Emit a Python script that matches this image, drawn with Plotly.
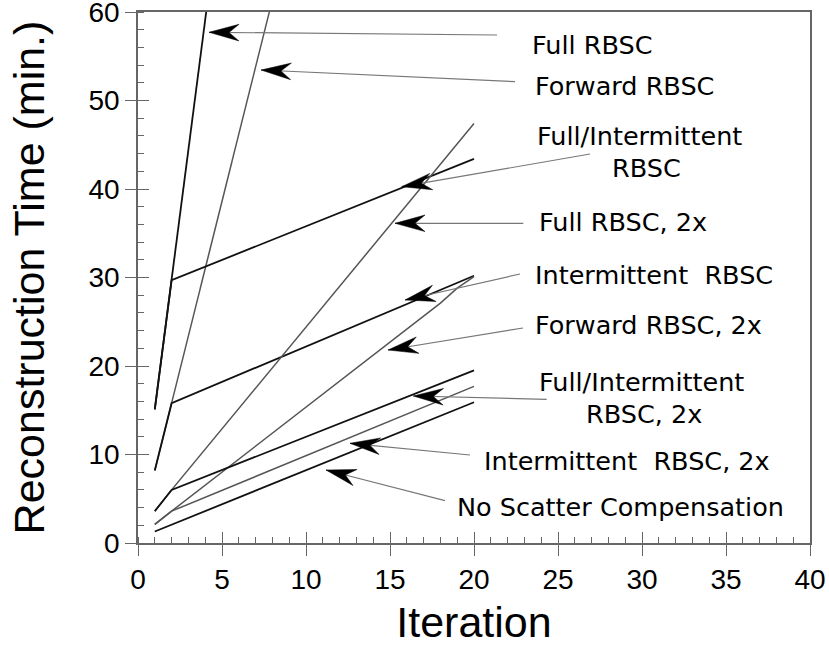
import math
import plotly.graph_objects as go

# ---------------- data ----------------
full_x = [1, 2, 3, 4, 5]
full_y = [15.1, 29.7, 44.4, 59.1, 73.8]

fwd_x = [1, 2, 3, 4, 5, 6, 7, 8]
fwd_y = [8.2, 15.8, 23.4, 31.0, 38.6, 46.2, 53.8, 61.4]

fullint_x = [1, 2, 20]
fullint_y = [15.1, 29.7, 43.4]

int_x = [1, 2, 20]
int_y = [8.2, 15.8, 30.2]

full2_x = [1, 2, 20]
full2_y = [3.6, 6.0, 47.4]

fwd2_x = [1, 2, 18, 19, 20]
fwd2_y = [2.1, 3.6, 27.1, 28.8, 30.1]

fullint2_x = [1, 2, 20]
fullint2_y = [3.6, 6.0, 19.5]

int2_x = [1, 2, 20]
int2_y = [2.1, 3.6, 17.7]

nosc_x = [1, 20]
nosc_y = [1.3, 15.9]

x_ticks = [0, 5, 10, 15, 20, 25, 30, 35, 40]
y_ticks = [0, 10, 20, 30, 40, 50, 60]

BLACK = "#111111"
GRAY = "#555555"

series = [
    (full_x, full_y, BLACK, 1.8),
    (fwd_x, fwd_y, GRAY, 1.5),
    (fullint_x, fullint_y, BLACK, 1.8),
    (int_x, int_y, BLACK, 1.8),
    (full2_x, full2_y, GRAY, 1.5),
    (fwd2_x, fwd2_y, GRAY, 1.5),
    (fullint2_x, fullint2_y, BLACK, 1.8),
    (int2_x, int2_y, GRAY, 1.5),
    (nosc_x, nosc_y, BLACK, 1.8),
]

fig = go.Figure()
for xs, ys, c, w in series:
    fig.add_trace(go.Scatter(x=xs, y=ys, mode="lines",
                             line=dict(color=c, width=w),
                             showlegend=False, hoverinfo="skip", cliponaxis=True))

# dummy trace to create the overlay axes (for crossing major ticks)
fig.add_trace(go.Scatter(x=[None], y=[None], xaxis="x2", yaxis="y2",
                         showlegend=False, hoverinfo="skip"))

# ---------------- geometry ----------------
W, H = 829, 649
ML, MR, MT, MB = 138, 19, 12, 106
XR = (0, 40)
YR = (0, 60)
PX_X = (W - ML - MR) / (XR[1] - XR[0])
PX_Y = (H - MT - MB) / (YR[1] - YR[0])


def dx_(px):
    return XR[0] + (px - ML) / PX_X


def dy_(py):
    return YR[0] + (H - MB - py) / PX_Y


# arrows: tip (pixel), tail (pixel) in picture coordinates
arrows_px = [
    ((209, 32.3), (497, 35)),
    ((261, 70), (515, 81.7)),
    ((401.7, 186.7), (590, 154)),
    ((395, 223.3), (523.3, 223.3)),
    ((405, 300), (520, 274)),
    ((388, 350), (523, 328)),
    ((413.3, 396), (546.7, 399.3)),
    ((350, 443.3), (470, 455)),
    ((326, 470), (445, 500.7)),
]

shapes = []
L, HW, NOTCH = 30.0, 8.3, 20.0
for (tpx, tpy), (spx, spy) in arrows_px:
    shapes.append(dict(type="line", xref="x", yref="y",
                       x0=dx_(spx), y0=dy_(spy), x1=dx_(tpx), y1=dy_(tpy),
                       line=dict(color="#777777", width=1.2), layer="above"))
for (tpx, tpy), (spx, spy) in arrows_px:
    ddx = tpx - spx
    ddy = -(tpy - spy)
    n = math.hypot(ddx, ddy)
    ux, uy = ddx / n, ddy / n
    nx, ny = -uy, ux
    pts_local = [(0, 0), (-L, HW), (-NOTCH, 0), (-L, -HW)]
    pts = [(a * ux + b * nx, a * uy + b * ny) for a, b in pts_local]
    path = "M" + " L".join(f"{p[0]:.2f},{p[1]:.2f}" for p in pts) + " Z"
    shapes.append(dict(type="path", xref="x", yref="y", xsizemode="pixel",
                       ysizemode="pixel", xanchor=dx_(tpx), yanchor=dy_(tpy), path=path,
                       fillcolor="black", line=dict(color="black", width=0.5),
                       layer="above"))

LABEL_FONT = dict(family="DejaVu Sans, sans-serif", size=25.5, color="black")
NB = "\u00a0"
labels_px = [
    ("Full RBSC", 530, 45),
    ("Forward RBSC", 533, 86),
    ("Full/Intermittent", 535, 136),
    ("RBSC", 610, 168),
    ("Full RBSC, 2x", 537, 222),
    ("Intermittent" + NB + NB + "RBSC", 533, 275),
    ("Forward RBSC, 2x", 533, 325),
    ("Full/Intermittent", 537, 382),
    ("RBSC, 2x", 584, 414),
    ("Intermittent" + NB + NB + "RBSC, 2x", 482, 461),
    ("No Scatter Compensation", 455, 507),
]
annotations = [dict(text=t, x=(px - ML) / (W - ML - MR), y=(H - MB - py) / (H - MT - MB),
                    xref="paper", yref="paper", showarrow=False,
                    xanchor="left", yanchor="middle", font=LABEL_FONT)
               for t, px, py in labels_px]

AX_FONT = dict(family="Liberation Sans, Arial, sans-serif", size=28, color="black")
TITLE_FONT = dict(family="Liberation Sans, Arial, sans-serif", size=43, color="black")
AX_COL = "#666666"

fig.update_layout(
    width=W, height=H,
    margin=dict(l=ML, r=MR, t=MT, b=MB, autoexpand=False),
    plot_bgcolor="white", paper_bgcolor="white",
    shapes=shapes, annotations=annotations,
    xaxis=dict(range=list(XR), tickvals=x_ticks, showgrid=False, zeroline=False,
               showline=True, linecolor=AX_COL, linewidth=1.5, mirror=True,
               ticks="outside", ticklen=11, tickcolor=AX_COL, tickwidth=1.2,
               minor=dict(dtick=1, ticks="inside", ticklen=6, tickcolor=AX_COL, tickwidth=1),
               ticklabeloverflow="allow", automargin=False,
               tickfont=AX_FONT, title=dict(text="Iteration", font=TITLE_FONT, standoff=13)),
    yaxis=dict(range=list(YR), tickvals=y_ticks, showgrid=False, zeroline=False,
               showline=True, linecolor=AX_COL, linewidth=1.5, mirror=True,
               ticks="outside", ticklen=11, tickcolor=AX_COL, tickwidth=1.2,
               minor=dict(dtick=2, ticks="inside", ticklen=6, tickcolor=AX_COL, tickwidth=1),
               ticklabeloverflow="allow", automargin=False,
               tickfont=AX_FONT, title=dict(text="Reconstruction Time (min.)", font=TITLE_FONT, standoff=30)),
    xaxis2=dict(range=list(XR), tickvals=x_ticks, overlaying="x", anchor="y2", side="bottom",
                showgrid=False, zeroline=False, showline=False, showticklabels=False,
                ticks="inside", ticklen=11, tickcolor=AX_COL, tickwidth=1.2, automargin=False),
    yaxis2=dict(range=list(YR), tickvals=y_ticks, overlaying="y", anchor="x2", side="left",
                showgrid=False, zeroline=False, showline=False, showticklabels=False,
                ticks="inside", ticklen=11, tickcolor=AX_COL, tickwidth=1.2, automargin=False),
)

fig.write_html("out.html")
